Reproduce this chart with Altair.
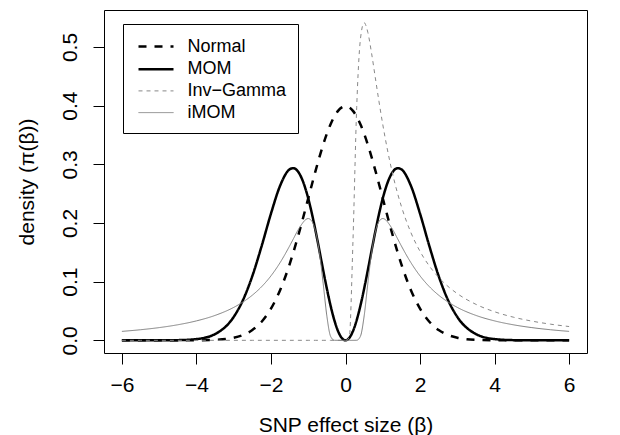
import altair as alt
import pandas as pd

# Shared x grid (effect size beta)
x_vals = [-6, -5.5, -5, -4.5, -4, -3.5, -3, -2.75, -2.5, -2.25, -2, -1.75, -1.5, -1.4, -1.25,
          -1, -0.9, -0.8, -0.7, -0.6, -0.5, -0.4, -0.3, -0.2, -0.1, 0,
          0.1, 0.2, 0.3, 0.4, 0.5, 0.6, 0.7, 0.8, 0.9, 1,
          1.25, 1.4, 1.5, 1.75, 2, 2.25, 2.5, 2.75, 3, 3.5, 4, 4.5, 5, 5.5, 6]

normal = [0, 0, 0.0000015, 0.000016, 0.000134, 0.00087, 0.00443, 0.00909, 0.01753, 0.03174,
          0.05399, 0.08628, 0.12952, 0.14973, 0.18265, 0.24197, 0.26609, 0.28969, 0.31225,
          0.33322, 0.35207, 0.36827, 0.38139, 0.39104, 0.39695, 0.39894,
          0.39695, 0.39104, 0.38139, 0.36827, 0.35207, 0.33322, 0.31225, 0.28969, 0.26609,
          0.24197, 0.18265, 0.14973, 0.12952, 0.08628, 0.05399, 0.03174, 0.01753, 0.00909,
          0.00443, 0.00087, 0.000134, 0.000016, 0.0000015, 0, 0]

mom = [0, 0, 0.00004, 0.00032, 0.00214, 0.01066, 0.03989, 0.06874, 0.10956, 0.16068,
       0.21596, 0.26423, 0.29142, 0.29347, 0.28539, 0.24197, 0.21553, 0.18540, 0.15300,
       0.11996, 0.08802, 0.05892, 0.03433, 0.01564, 0.00397, 0,
       0.00397, 0.01564, 0.03433, 0.05892, 0.08802, 0.11996, 0.15300, 0.18540, 0.21553,
       0.24197, 0.28539, 0.29347, 0.29142, 0.26423, 0.21596, 0.16068, 0.10956, 0.06874,
       0.03989, 0.01066, 0.00214, 0.00032, 0.00004, 0, 0]

inv_gamma = [0, 0, 0, 0, 0, 0, 0, 0, 0, 0, 0, 0, 0, 0, 0, 0, 0, 0, 0, 0, 0, 0, 0, 0, 0, 0,
             0.00454, 0.16845, 0.39638, 0.51303, 0.54134, 0.52466, 0.48908, 0.44766, 0.40641,
             0.36788, 0.28757, 0.24977, 0.22819, 0.18440, 0.15163, 0.12665, 0.10725, 0.09192,
             0.07961, 0.06134, 0.04868, 0.03954, 0.03275, 0.02756, 0.02351]

imom = [0.01524, 0.01805, 0.02168, 0.02652, 0.03313, 0.04245, 0.05610, 0.06536, 0.07692,
        0.09147, 0.10985, 0.13291, 0.16078, 0.17282, 0.19040, 0.20756, 0.20266, 0.18478,
        0.14957, 0.09745, 0.04133, 0.0068, 0.0001, 0, 0, 0,
        0, 0, 0.0001, 0.0068, 0.04133, 0.09745, 0.14957, 0.18478, 0.20266,
        0.20756, 0.19040, 0.17282, 0.16078, 0.13291, 0.10985, 0.09147, 0.07692, 0.06536,
        0.05610, 0.04245, 0.03313, 0.02652, 0.02168, 0.01805, 0.01524]

series_names = ["Normal", "MOM", "Inv\u2212Gamma", "iMOM"]
series_colors = ["#000000", "#000000", "#888888", "#808080"]
series_dashes = [[8, 8], [1, 0], [4, 4], [1, 0]]
series_widths = [2.5, 2.5, 1, 1]

x_ticks = [-6, -4, -2, 0, 2, 4, 6]
y_ticks = [0, 0.1, 0.2, 0.3, 0.4, 0.5]

rows = []
for name, ys in zip(series_names, [normal, mom, inv_gamma, imom]):
    for xv, yv in zip(x_vals, ys):
        rows.append({"series": name, "x": xv, "y": yv})
df = pd.DataFrame(rows)

legend = alt.Legend(
    title=None,
    orient="none",
    legendX=19,
    legendY=14,
    strokeColor="black",
    padding=11,
    symbolOffset=10.5,
    symbolType="M-1.75,0H1.75",
    symbolSize=400,
    labelOffset=20,
    rowPadding=1.7,
    labelFontSize=18,
    labelFont="Liberation Sans",
    labelColor="black",
    labelLimit=300,
)

chart = alt.Chart(df).mark_line(interpolate="monotone").encode(
    x=alt.X(
        "x:Q",
        scale=alt.Scale(domain=[-6.48, 6.48], nice=False, zero=False),
        axis=alt.Axis(
            values=x_ticks,
            title="SNP effect size (\u03b2)",
            labelBaseline="middle",
            labelPadding=21,
            titleY=72,
            titleBaseline="middle",
        ),
    ),
    y=alt.Y(
        "y:Q",
        scale=alt.Scale(domain=[-0.0216, 0.563], nice=False, zero=False),
        axis=alt.Axis(
            values=y_ticks,
            format=".1f",
            title="density (\u03c0(\u03b2))",
            labelAngle=270,
            labelAlign="center",
            labelBaseline="middle",
            labelPadding=23,
            titleAngle=270,
            titleX=-77,
            titleY=171.5,
            titleAlign="center",
            titleBaseline="middle",
        ),
    ),
    color=alt.Color("series:N", scale=alt.Scale(domain=series_names, range=series_colors), legend=legend),
    strokeDash=alt.StrokeDash("series:N", scale=alt.Scale(domain=series_names, range=series_dashes), legend=legend),
    strokeWidth=alt.StrokeWidth("series:N", scale=alt.Scale(type="ordinal", domain=series_names, range=series_widths), legend=legend),
).properties(
    width=483,
    height=343,
    background="white",
    autosize=alt.AutoSizeParams(type="none"),
    padding={"left": 104, "top": 10, "right": 33, "bottom": 82},
).configure_view(
    stroke="black", strokeWidth=1
).configure_axis(
    domain=False,
    grid=False,
    tickColor="black",
    tickSize=11,
    tickWidth=1,
    labelFont="Liberation Sans",
    labelFontSize=21,
    labelColor="black",
    labelFlush=False,
    labelOverlap=False,
    titleFont="Liberation Sans",
    titleFontSize=21,
    titleFontWeight="normal",
    titleColor="black",
)

chart.save("out.html", embed_options={"renderer": "svg", "actions": False})
